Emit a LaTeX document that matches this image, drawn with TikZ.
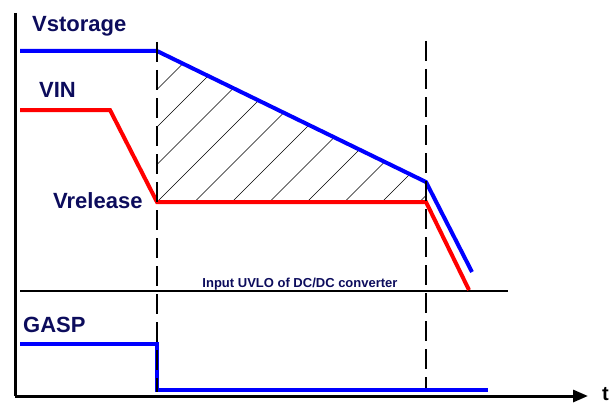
\documentclass[tikz,border=0pt]{standalone}
\usepackage{fontspec}
\setmainfont{Liberation Sans}
\usetikzlibrary{arrows.meta, positioning}
\definecolor{navytext}{RGB}{12,12,92}
\definecolor{sigblue}{RGB}{0,0,255}
\definecolor{sigred}{RGB}{255,0,0}

\begin{document}
\begin{tikzpicture}[
    x=1pt, y=-1pt,
    signal/.style={line width=4pt, draw=#1, line join=miter},
    siglabel/.style={text=navytext, font=\fontsize{22}{24}\selectfont\bfseries, inner sep=0pt, anchor=base west},
    marker/.style={black, line width=2.4pt, dash pattern=on 20pt off 8pt},
    axis/.style={black, line width=3pt},
    hatch/.style={black, line width=0.6pt},
]
    \useasboundingbox (0,0) rectangle (613,404);

    % Key points of the curves
    \coordinate (vs0) at (20,51);
    \coordinate (vs1) at (157,51);
    \coordinate (vs2) at (426,182);
    \coordinate (vs3) at (472,272);
    \coordinate (vi0) at (20,110);
    \coordinate (vi1) at (110,110);
    \coordinate (vi2) at (157,202);
    \coordinate (vi3) at (426,202);
    \coordinate (vi4) at (469,290);
    \coordinate (g0) at (20,344);
    \coordinate (g1) at (157,344);
    \coordinate (g2) at (157,390);
    \coordinate (g3) at (488,390);

    % Hatched area between Vstorage and Vrelease
    \begin{scope}
        \clip (vs1) -- (vs2) -- (vi3) -- (vi2) -- cycle;
        \foreach \k in {-4,...,8}
            \draw[hatch] (157+37.5*\k,202) -- ++(250,-250);
    \end{scope}

    % UVLO threshold
    \coordinate (uvloL) at (20,291);
    \coordinate (uvloR) at (508,291);
    \draw[black, line width=1.2pt] (uvloL) -- (uvloR);
    \node[text=navytext, font=\fontsize{13}{15}\selectfont\bfseries, inner sep=0pt, anchor=base] (uvlo) at (300,287) {Input UVLO of DC/DC converter};

    % Signals
    \draw[signal=sigblue] (vs0) -- (vs1) -- (vs2) -- (vs3);
    \draw[signal=sigred] (vi0) -- (vi1) -- (vi2) -- (vi3) -- (vi4);
    \draw[signal=sigblue] (g0) -- (g1) -- (g2) -- (g3);

    % Labels
    \node[siglabel] (vstorage) at (32,31.5) {Vstorage};
    \node[siglabel] (vin) at (39,97) {VIN};
    \node[siglabel] (vrelease) at (53,208) {Vrelease};
    \node[siglabel] (gasp) at (23,332) {GASP};

    % Time markers
    \draw[marker] (157,42) -- (157,392);
    \draw[marker] (426,41) -- (426,388);

    % Axes
    \coordinate (origin) at (15,396);
    \coordinate (ytop) at (15,13);
    \coordinate (tend) at (588,396);
    \draw[axis] (ytop) -- (origin);
    \draw[axis, -{Triangle[length=15pt, width=12pt]}] (origin) -- (tend);
    \node[siglabel, font=\fontsize{20}{22}\selectfont\bfseries, text=black] (tlabel) at (602,400) {t};
\end{tikzpicture}
\end{document}
